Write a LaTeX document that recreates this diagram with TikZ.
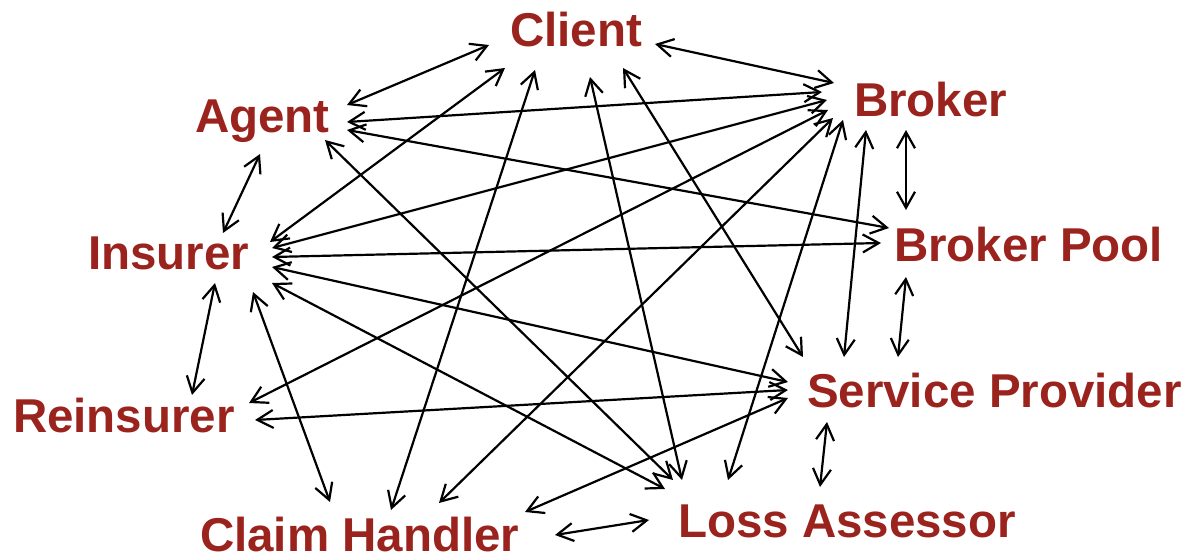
\documentclass[tikz,border=0pt]{standalone}
\usepackage{fontspec}
\setmainfont{Liberation Sans}
\usetikzlibrary{arrows.meta,calc}
\definecolor{labred}{RGB}{155,35,30}
\tikzset{
  role/.style={anchor=base west,inner sep=0pt,outer sep=0pt,text=labred,
    font=\fontsize{23.75pt}{28pt}\selectfont\bfseries},
  link/.style={line width=1.1pt,{Straight Barb[length=8pt,width=9pt]}-{Straight Barb[length=8pt,width=9pt]}}
}
\begin{document}
\begin{tikzpicture}[x=0.5pt,y=-0.5pt]
\useasboundingbox (0,0) rectangle (1185,556);
\node[role] (C) at (510,47) {Client};
\node[role] (A) at (195,133) {Agent};
\node[role] (B) at (854,117) {Broker};
\node[role] (BP) at (894,262) {Broker Pool};
\node[role] (I) at (88,270) {Insurer};
\node[role] (R) at (13,432) {Reinsurer};
\node[role] (SP) at (807,407) {Service Provider};
\node[role] (CH) at (200,551) {Claim Handler};
\node[role] (LA) at (678,537) {Loss Assessor};
% Client
\draw[link] ($(C.base west)+(-21,-2)$) -- ($(A.base west)+(152,-28)$);
\draw[link] ($(C.base west)+(145,-3)$) -- ($(B.base west)+(-20,-34)$);
\draw[link] ($(C.base west)+(-5,21)$) -- ($(I.base west)+(182,-28)$);
\draw[link] ($(C.base west)+(25,23)$) -- ($(CH.base west)+(191,-41)$);
\draw[link] ($(C.base west)+(80,30)$) -- ($(LA.base west)+(4,-57)$);
\draw[link] ($(C.base west)+(113,21)$) -- ($(SP.base west)+(-4,-50)$);
% Agent
\draw[link] ($(A.base west)+(152,-11)$) -- ($(B.base west)+(-32,-25)$);
\draw[link] ($(A.base west)+(152,-3)$) -- ($(BP.base west)+(-5,-34)$);
\draw[link] ($(A.base west)+(130,7)$) -- ($(LA.base west)+(-5,-57)$);
\draw[link] ($(A.base west)+(65,21)$) -- ($(I.base west)+(135,-37)$);
% Insurer
\draw[link] ($(I.base west)+(184,-22)$) -- ($(B.base west)+(-27,-17)$);
\draw[link] ($(I.base west)+(184,-13)$) -- ($(BP.base west)+(-13,-19)$);
\draw[link] ($(I.base west)+(184,-3)$) -- ($(SP.base west)+(-19,-25)$);
\draw[link] ($(I.base west)+(184,13)$) -- ($(LA.base west)+(-13,-48)$);
\draw[link] ($(I.base west)+(127,13)$) -- ($(R.base west)+(179,-37)$);
\draw[link] ($(I.base west)+(165,22)$) -- ($(CH.base west)+(130,-49)$);
% Reinsurer
\draw[link] ($(R.base west)+(236,-29)$) -- ($(B.base west)+(-26,-7)$);
\draw[link] ($(R.base west)+(242,-12)$) -- ($(SP.base west)+(-19,-17)$);
% Claim Handler
\draw[link] ($(CH.base west)+(239,-48)$) -- ($(B.base west)+(-21,1)$);
\draw[link] ($(CH.base west)+(325,-39)$) -- ($(SP.base west)+(-19,-9)$);
\draw[link] ($(CH.base west)+(355,-16)$) -- ($(LA.base west)+(-29,-17)$);
% Broker
\draw[link] ($(B.base west)+(-11,3)$) -- ($(LA.base west)+(50,-57)$);
\draw[link] ($(B.base west)+(52,13)$) -- ($(BP.base west)+(12,-52)$);
\draw[link] ($(B.base west)+(12,13)$) -- ($(SP.base west)+(37,-50)$);
% Broker Pool / Service Provider
\draw[link] ($(BP.base west)+(12,15)$) -- ($(SP.base west)+(91,-50)$);
\draw[link] ($(SP.base west)+(20,15)$) -- ($(LA.base west)+(142,-50)$);
\end{tikzpicture}
\end{document}
